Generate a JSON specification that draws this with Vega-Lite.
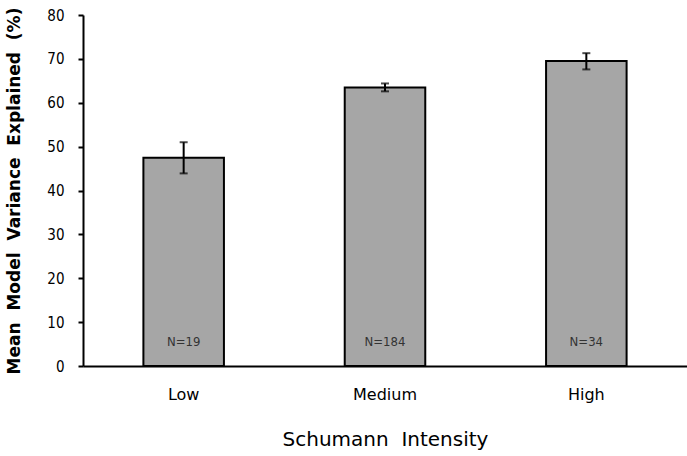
{
  "$schema": "https://vega.github.io/schema/vega-lite/v6.json",
  "width": 604,
  "height": 351,
  "autosize": {"type": "none"},
  "padding": {"left": 83, "top": 15, "right": 0, "bottom": 90},
  "background": "white",
  "config": {
    "view": {"stroke": null},
    "font": "DejaVu Sans"
  },
  "data": {
    "values": [
      {"intensity": "Low", "mean": 47.45, "lo": 43.9, "hi": 51.0, "n": "N=19"},
      {"intensity": "Medium", "mean": 63.5, "lo": 62.6, "hi": 64.4, "n": "N=184"},
      {"intensity": "High", "mean": 69.5, "lo": 67.6, "hi": 71.3, "n": "N=34"}
    ]
  },
  "encoding": {
    "x": {
      "field": "intensity",
      "type": "nominal",
      "sort": ["Low", "Medium", "High"],
      "scale": {"paddingInner": 0.6, "paddingOuter": 0.3},
      "axis": {
        "title": "Schumann\u00a0 Intensity",
        "titleFont": "DejaVu Sans",
        "titleFontSize": 20,
        "titleFontWeight": "normal",
        "titleColor": "black",
        "titlePadding": 27,
        "labelAngle": 0,
        "labelFont": "DejaVu Sans",
        "labelFontSize": 16,
        "labelColor": "black",
        "labelPadding": 20,
        "ticks": false,
        "domainColor": "black",
        "domainWidth": 2
      }
    }
  },
  "layer": [
    {
      "mark": {"type": "bar", "color": "#a6a6a6", "stroke": "black", "strokeWidth": 2},
      "encoding": {
        "y": {
          "field": "mean",
          "type": "quantitative",
          "scale": {"domain": [0, 80], "nice": false},
          "axis": {
            "title": "Mean\u00a0 Model\u00a0 Variance\u00a0 Explained\u00a0 (%)",
            "titleFont": "DejaVu Sans",
            "titleFontSize": 17,
            "titleFontWeight": "bold",
            "titleColor": "black",
            "titleX": -69,
            "titleY": 175.5,
            "titleAngle": -90,
            "titleAlign": "center",
            "titleBaseline": "middle",
            "values": [0, 10, 20, 30, 40, 50, 60, 70, 80],
            "labelFont": "DejaVu Sans Condensed",
            "labelFontSize": 15,
            "labelColor": "black",
            "labelPadding": 14,
            "tickSize": 5,
            "tickColor": "black",
            "tickWidth": 2,
            "domainColor": "black",
            "domainWidth": 2,
            "grid": false
          }
        }
      }
    },
    {
      "mark": {"type": "rule", "color": "black", "strokeWidth": 2},
      "encoding": {
        "y": {"field": "lo", "type": "quantitative"},
        "y2": {"field": "hi"}
      }
    },
    {
      "mark": {"type": "tick", "color": "black", "thickness": 2, "size": 8, "orient": "horizontal"},
      "encoding": {"y": {"field": "lo", "type": "quantitative"}}
    },
    {
      "mark": {"type": "tick", "color": "black", "thickness": 2, "size": 8, "orient": "horizontal"},
      "encoding": {"y": {"field": "hi", "type": "quantitative"}}
    },
    {
      "mark": {"type": "text", "font": "DejaVu Sans Condensed", "fontSize": 13, "color": "#333333", "baseline": "middle"},
      "encoding": {
        "y": {"datum": 5.5, "type": "quantitative"},
        "text": {"field": "n"}
      }
    }
  ]
}
